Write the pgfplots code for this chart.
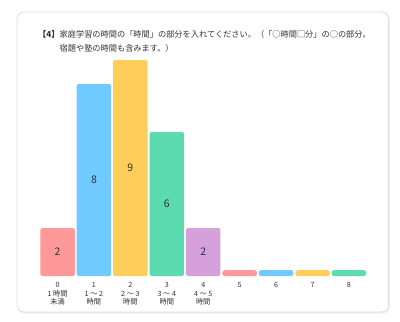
\documentclass[border=0pt]{standalone}
\usepackage{fontspec}
\setmainfont{Noto Sans CJK JP}
\usepackage{pgfplots}
\pgfplotsset{compat=1.18}
\definecolor{cpink}{RGB}{255,152,152}
\definecolor{cblue}{RGB}{112,202,255}
\definecolor{cyellow}{RGB}{255,206,90}
\definecolor{cgreen}{RGB}{92,219,176}
\definecolor{cpurple}{RGB}{214,160,220}
\definecolor{ctext}{RGB}{50,50,50}
\definecolor{cborder}{RGB}{222,222,222}
\begin{document}
\begin{tikzpicture}[x=1bp,y=1bp]
\useasboundingbox[fill=white] (0,0) rectangle (400,322);
% card
\fill[black!6, rounded corners=7bp] (17.5,8.5) rectangle (390,309.5);
\draw[cborder, fill=white, line width=0.8bp, rounded corners=7bp] (17,10) rectangle (388.5,310);
% title
\node[anchor=west, inner sep=0, font=\fontsize{8.2bp}{10bp}\selectfont\bfseries, text=ctext] at (38,288) {【4】};
\node[anchor=west, inner sep=0, font=\fontsize{8.2bp}{10bp}\selectfont, text=ctext] at (59.5,288) {家庭学習の時間の「時間」の部分を入れてください。（「○時間□分」の○の部分。};
\node[anchor=west, inner sep=0, font=\fontsize{8.2bp}{10bp}\selectfont, text=ctext] at (59.5,274) {宿題や塾の時間も含みます。）};
\begin{axis}[
  at={(39.3bp,46bp)}, anchor=south west,
  scale only axis, width=327.9bp, height=216bp,
  xmin=-0.5, xmax=8.5, ymin=0, ymax=9,
  axis line style={draw=none}, tick style={draw=none},
  ytick=\empty,
  /pgf/number format/assume math mode=true,
  xtick={0,1,2,3,4,5,6,7,8},
  xticklabels={{0\\1 時間\\未満},{1\\1 ～ 2\\時間},{2\\2 ～ 3\\時間},{3\\3 ～ 4\\時間},{4\\4 ～ 5\\時間},5,6,7,8},
  xticklabel style={align=center, anchor=north, inner sep=0pt, yshift=-6bp,
    font=\fontsize{7.2bp}{8.7bp}\selectfont, text=ctext},
  clip=false,
  every axis plot/.append style={ybar, bar width=34.5bp, draw=none, rounded corners=2.2bp},
  valuelabel/.style={nodes near coords, visualization depends on=y \as \rawy,
    every node near coord/.append style={anchor=center, text=ctext,
      font=\fontsize{10.5bp}{12bp}\selectfont, shift={(axis direction cs:0,-\rawy/2)}}},
]
\addplot[fill=cpink, valuelabel] coordinates {(0,2)};
\addplot[fill=cblue, valuelabel] coordinates {(1,8)};
\addplot[fill=cyellow, valuelabel] coordinates {(2,9)};
\addplot[fill=cgreen, valuelabel] coordinates {(3,6)};
\addplot[fill=cpurple, valuelabel] coordinates {(4,2)};
\addplot[fill=cpink] coordinates {(5,0.24)};
\addplot[fill=cblue] coordinates {(6,0.24)};
\addplot[fill=cyellow] coordinates {(7,0.24)};
\addplot[fill=cgreen] coordinates {(8,0.24)};
\end{axis}
\end{tikzpicture}
\end{document}
